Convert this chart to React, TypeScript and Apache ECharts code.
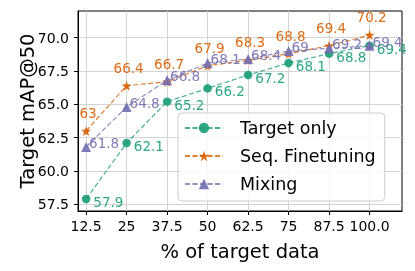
import React, { useEffect, useRef } from "react";
import * as echarts from "echarts";

const xValues = [12.5, 25, 37.5, 50, 62.5, 75, 87.5, 100];
const xTickLabels = ["12.5", "25", "37.5", "50", "62.5", "75", "87.5", "100.0"];
const yTicks = [57.5, 60, 62.5, 65, 67.5, 70];
const targetOnly = [57.9, 62.1, 65.2, 66.2, 67.2, 68.1, 68.8, 69.4];
const seqFinetuning = [63, 66.4, 66.7, 67.9, 68.3, 68.8, 69.4, 70.2];
const mixing = [61.8, 64.8, 66.8, 68.1, 68.4, 69, 69.2, 69.4];
const seriesNames = ["Target only", "Seq. Finetuning", "Mixing"];

const FONT = "DejaVu Sans";
const GREEN = "#1b9e77";
const ORANGE = "#d95f02";
const PURPLE = "#7570b3";
const STAR =
  "path://M0,-10 L2.35,-3.24 L9.51,-3.09 L3.8,1.24 L5.88,8.09 L0,4 L-5.88,8.09 L-3.8,1.24 L-9.51,-3.09 L-2.35,-3.24 Z";

export default function App() {
  const ref = useRef<HTMLDivElement>(null);
  useEffect(() => {
    if (!ref.current) return;
    const chart = echarts.init(ref.current, null, { renderer: "svg" });
    const mk = (vals: number[]) => vals.map((v, i) => [xValues[i], v]);
    const lineBase = (color: string) => ({
      type: "line" as const,
      lineStyle: { color, width: 1.2, type: [5, 2.5], opacity: 0.8 },
      itemStyle: { color, opacity: 0.92 },
    });
    chart.setOption({
      animation: false,
      textStyle: { fontFamily: FONT },
      grid: {
        left: 78,
        right: 13,
        top: 11,
        bottom: 60,
        show: true,
        borderColor: "#000",
        borderWidth: 1,
        backgroundColor: "transparent",
      },
      legend: {
        orient: "vertical",
        left: 178,
        top: 113,
        padding: [5, 9, 7, 6],
        backgroundColor: "rgba(255,255,255,0.8)",
        borderColor: "#cccccc",
        borderWidth: 1,
        borderRadius: 4,
        itemWidth: 38,
        itemHeight: 13,
        itemGap: 8,
        data: seriesNames,
        textStyle: {
          fontFamily: FONT,
          fontSize: 17.5,
          color: "#000",
          lineHeight: 20,
          padding: [0, 0, 0, 12],
        },
      },
      xAxis: {
        type: "value",
        min: 10,
        max: 110,
        name: "% of target data",
        nameLocation: "middle",
        nameGap: 30,
        nameMoveOverlap: false,
        nameTextStyle: { fontFamily: FONT, fontSize: 19.5, color: "#000" },
        axisLine: { show: true, lineStyle: { color: "#000", width: 1 } },
        axisTick: {
          show: true,
          length: 4,
          lineStyle: { color: "#000" },
          customValues: xValues,
        },
        axisLabel: {
          customValues: xValues,
          fontFamily: FONT,
          fontSize: 14,
          color: "#000",
          margin: 8,
          formatter: (v: number) => {
            const i = xValues.indexOf(v);
            return i >= 0 ? xTickLabels[i] : "";
          },
        },
        splitLine: { show: true, lineStyle: { color: "#d4d4d4", width: 1 } },
      },
      yAxis: {
        type: "value",
        min: 57,
        max: 72,
        name: "Target mAP@50",
        nameLocation: "middle",
        nameGap: 41,
        nameMoveOverlap: false,
        nameTextStyle: { fontFamily: FONT, fontSize: 19.5, color: "#000" },
        axisLine: { show: true, lineStyle: { color: "#000", width: 1 } },
        axisTick: {
          show: true,
          length: 4,
          lineStyle: { color: "#000" },
          customValues: yTicks,
        },
        axisLabel: {
          customValues: yTicks,
          fontFamily: FONT,
          fontSize: 14,
          color: "#000",
          margin: 9,
          formatter: (v: number) => v.toFixed(1),
        },
        splitLine: { show: true, lineStyle: { color: "#d4d4d4", width: 1 } },
      },
      series: [
        {
          ...lineBase(GREEN),
          name: seriesNames[0],
          data: mk(targetOnly),
          symbol: "circle",
          symbolSize: 8.5,
          z: 2,
          label: {
            show: true,
            position: "right",
            distance: 0,
            offset: [3, 3],
            color: GREEN,
            fontFamily: FONT,
            fontSize: 13.5,
            formatter: (p: any) => String(p.value[1]),
          },
        },
        {
          ...lineBase(ORANGE),
          name: seriesNames[1],
          data: mk(seqFinetuning),
          symbol: STAR,
          symbolSize: 10,
          z: 3,
          label: {
            show: true,
            position: "top",
            distance: 6,
            offset: [2, 0],
            color: ORANGE,
            fontFamily: FONT,
            fontSize: 13.5,
            formatter: (p: any) => String(p.value[1]),
          },
        },
        {
          ...lineBase(PURPLE),
          name: seriesNames[2],
          data: mk(mixing),
          symbol: "triangle",
          symbolSize: 10,
          z: 4,
          label: {
            show: true,
            position: "right",
            distance: 0,
            offset: [-2, -4],
            color: PURPLE,
            fontFamily: FONT,
            fontSize: 13.5,
            formatter: (p: any) => String(p.value[1]),
          },
        },
      ],
    });
    return () => chart.dispose();
  }, []);
  return (
    <div
      ref={ref}
      style={{ position: "fixed", left: 0, top: 0, width: 415, height: 271 }}
    />
  );
}
